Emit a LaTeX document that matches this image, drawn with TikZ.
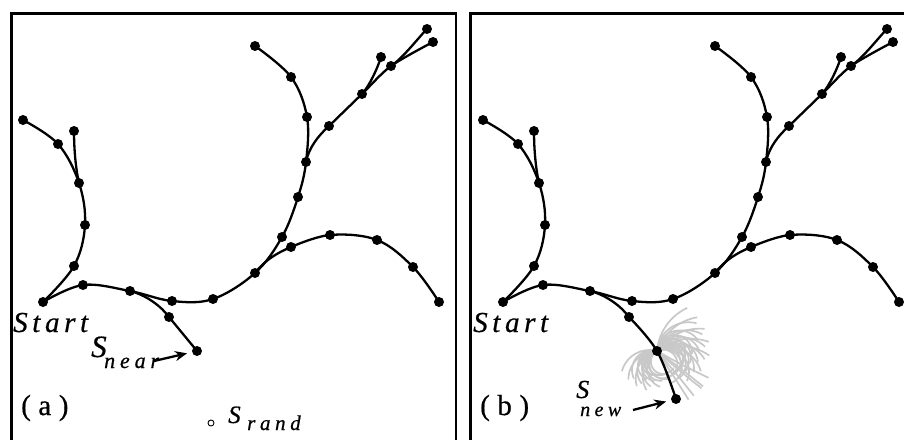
\documentclass[tikz,border=0pt]{standalone}
\usepackage{fontspec}
\setmainfont{Liberation Serif}
\newfontfamily\lsfont[LetterSpace=16,FakeBold=0.6]{Liberation Serif}
\newfontfamily\lpfont[LetterSpace=26,FakeBold=0.6]{Liberation Serif}
\newfontfamily\lssfont[LetterSpace=22,FakeBold=0.6]{Liberation Serif}
\newfontfamily\plfont[FakeBold=0.6]{Liberation Serif}
\usetikzlibrary{arrows.meta}
\definecolor{fangray}{RGB}{200,200,200}

\newcommand\treecoords[1]{%
  \coordinate (s#1) at (43,302);
  \coordinate (a1#1) at (74,266);
  \coordinate (a2#1) at (85,225);
  \coordinate (a3#1) at (79,183);
  \coordinate (a4#1) at (58,144);
  \coordinate (a5#1) at (23,120);
  \coordinate (a6#1) at (74,131);
  \coordinate (m1#1) at (83,285);
  \coordinate (m2#1) at (130,291);
  \coordinate (m3#1) at (172,301);
  \coordinate (m4#1) at (213,299);
  \coordinate (m5#1) at (255,273);
  \coordinate (m6#1) at (282,237);
  \coordinate (m7#1) at (298,197);
  \coordinate (m8#1) at (306,162);
  \coordinate (m9#1) at (307,117);
  \coordinate (m10#1) at (291,77);
  \coordinate (m11#1) at (255,46);
  \coordinate (b1#1) at (329,126);
  \coordinate (b2#1) at (362,94);
  \coordinate (b3#1) at (391,66);
  \coordinate (b4#1) at (433,42);
  \coordinate (b5#1) at (381,57);
  \coordinate (b6#1) at (427,29);
  \coordinate (c1#1) at (291,247);
  \coordinate (c2#1) at (330,235);
  \coordinate (c3#1) at (377,240);
  \coordinate (c4#1) at (413,267);
  \coordinate (c5#1) at (439,302);
  \coordinate (n1#1) at (169,317);
  \coordinate (n2#1) at (197,351);
}

\newcommand\treecurves[1]{%
  \draw[tree] plot[smooth, tension=0.6] coordinates {(s#1) (a1#1) (a2#1) (a3#1) (a4#1) (a5#1)};
  \draw[tree] (a3#1) .. controls +(-4,-18) and +(0,14) .. (a6#1);
  \draw[tree] plot[smooth, tension=0.6] coordinates {(s#1) (m1#1) (m2#1) (m3#1) (m4#1) (m5#1) (m6#1) (m7#1) (m8#1) (m9#1) (m10#1) (m11#1)};
  \draw[tree] (m8#1) .. controls +(3,-15) and +(-10,9) .. (b1#1);
  \draw[tree] plot[smooth, tension=0.5] coordinates {(b1#1) (b2#1) (b3#1) (b4#1)};
  \draw[tree] (b2#1) .. controls +(8,-9) and +(-3,10) .. (b5#1);
  \draw[tree] (b3#1) .. controls +(12,-8) and +(-8,8) .. (b6#1);
  \draw[tree] (m5#1) .. controls +(10,-13) and +(-14,6) .. (c1#1);
  \draw[tree] plot[smooth, tension=0.6] coordinates {(c1#1) (c2#1) (c3#1) (c4#1) (c5#1)};
  \draw[tree] (m2#1) .. controls +(16,4) and +(-8,-11) .. (n1#1);
}

\newcommand\treedots[1]{%
  \foreach \n in {s,a1,a2,a3,a4,a5,a6,m1,m2,m3,m4,m5,m6,m7,m8,m9,m10,m11,b1,b2,b3,b4,b5,b6,c1,c2,c3,c4,c5,n1,n2}
    \node[dot] (d\n#1) at (\n#1) {};
}

\begin{document}
\begin{tikzpicture}[x=1pt,y=-1pt,
  tree/.style={line width=2.3pt, line cap=round},
  dot/.style={circle, fill=black, inner sep=0pt, minimum size=10pt},
  frame/.style={line width=2.2pt},
  fan/.style={line width=1.7pt, draw=fangray},
  lbl/.style={inner sep=0pt, anchor=base west},
  ptr/.style={line width=2.3pt, -{Stealth[length=12pt,width=10pt]}}]
\useasboundingbox (0,0) rectangle (904,439);
\clip (0,0) rectangle (904,439);
\draw[frame] (11.5,13.5) rectangle (456,470);
\draw[frame] (470.5,13.5) rectangle (940,470);

% ---------- panel (a)
\treecoords{A}
\treecurves{A}
\draw[tree] (n1A) -- (n2A);
\treedots{A}
\node[circle, draw, line width=0.9pt, inner sep=0pt, minimum size=6pt] (srand) at (211,423) {};

\node[lbl, font=\fontsize{29}{29}\selectfont\lsfont\itshape] (startA) at (13,332) {Start};
\node[lbl, font=\fontsize{31}{31}\selectfont\plfont\itshape] (SnearS) at (91,357) {S};
\node[lbl, font=\fontsize{22}{22}\selectfont\lssfont\itshape] (SnearSub) at (104,368) {near};
\coordinate (arrA) at (154,361);
\draw[ptr, shorten >=5pt] (arrA) -- (dn2A);
\node[lbl, font=\fontsize{25}{25}\selectfont\plfont\itshape] (SrandS) at (228,423) {S};
\node[lbl, font=\fontsize{21}{21}\selectfont\lssfont\itshape] (SrandSub) at (247,430) {rand};
\node[lbl, font=\fontsize{29}{29}\selectfont\lpfont] (labA) at (21,415) {(a)};

% ---------- panel (b)
\begin{scope}[xshift=460pt]
\treecoords{B}
\coordinate (newB) at (216,399);
\end{scope}
\foreach \ph in {-85,-70,-55,-40,-25}{
  \foreach \al in {60,100,140,180,220}{
    \pgfmathsetmacro\R{55*180/(\al*3.14159)}
    \draw[fan, shift={(n2B)}] plot[domain=0:\al, samples=28, variable=\t]
       ({\R*(sin(\ph+\t)-sin(\ph))}, {-\R*(cos(\ph+\t)-cos(\ph))});
  }
}
\foreach \ph in {150,165,180,195}{
  \foreach \al in {-90,-130,-170,-210}{
    \pgfmathsetmacro\R{45*180/(\al*3.14159)}
    \draw[fan, shift={(n2B)}] plot[domain=0:\al, samples=28, variable=\t]
       ({\R*(sin(\ph+\t)-sin(\ph))}, {-\R*(cos(\ph+\t)-cos(\ph))});
  }
}
\foreach \ph/\al in {30/-5, 36/3, 42/-4, 49/3, 56/2}{
    \pgfmathsetmacro\R{58*180/(\al*3.14159)}
    \draw[fan, shift={(n2B)}] plot[domain=0:\al, samples=10, variable=\t]
       ({\R*(sin(\ph+\t)-sin(\ph))}, {-\R*(cos(\ph+\t)-cos(\ph))});
}
\treecurves{B}
\draw[tree] plot[smooth, tension=0.6] coordinates {(n1B) (n2B) (newB)};
\treedots{B}
\node[dot] (dnewB) at (newB) {};

\node[lbl, font=\fontsize{29}{29}\selectfont\lsfont\itshape] (startB) at (473,332) {Start};
\node[lbl, font=\fontsize{29}{29}\selectfont\lpfont] (labB) at (480,415) {(b)};
\node[lbl, font=\fontsize{26}{26}\selectfont\plfont\itshape] (SnewS) at (576,398) {S};
\node[lbl, font=\fontsize{20}{20}\selectfont\lssfont\itshape] (SnewSub) at (580,416) {new};
\coordinate (arrB) at (633,410);
\draw[ptr, shorten >=5pt] (arrB) -- (dnewB);
\end{tikzpicture}
\end{document}
